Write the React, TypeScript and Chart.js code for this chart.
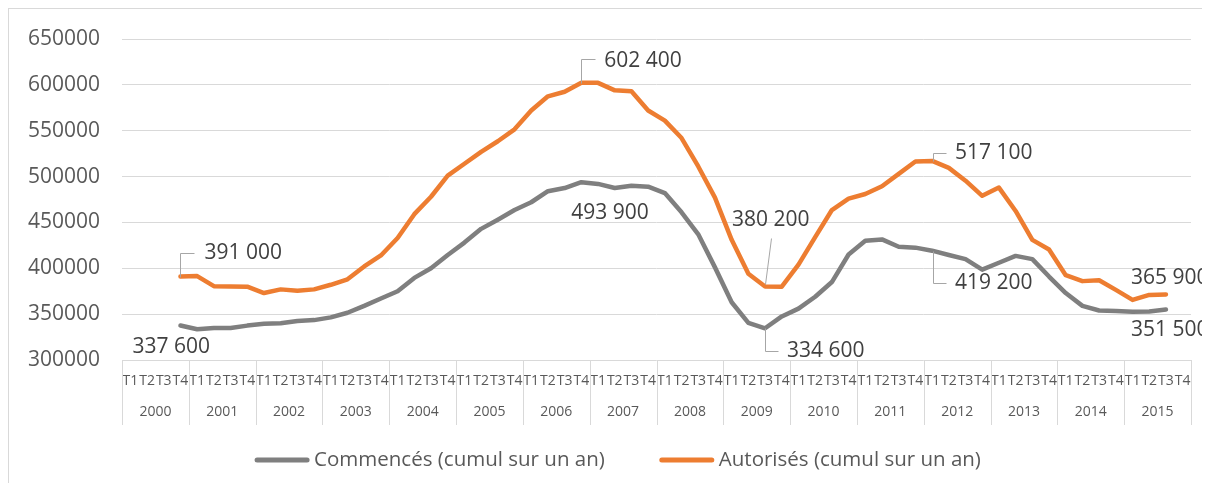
import React, { useEffect, useRef } from "react";
import { Chart, registerables } from "chart.js";

Chart.register(...registerables);

// ---------- data ----------
const years = ["2000", "2001", "2002", "2003", "2004", "2005", "2006", "2007", "2008", "2009", "2010", "2011", "2012", "2013", "2014", "2015"];
const quarters = ["T1", "T2", "T3", "T4"];

const seriesNames = ["Commencés (cumul sur un an)", "Autorisés (cumul sur un an)"];

// 64 quarters, 2000 T1 .. 2015 T4 (null where no value)
const commences: (number | null)[] = [
  null, null, null, 337600,
  333500, 335000, 335000, 337500,
  339500, 340000, 342500, 343500,
  346500, 351500, 359000, 367000,
  375000, 389500, 400000, 414500,
  428000, 443000, 453000, 463500,
  472000, 484000, 487500, 493900,
  492000, 487500, 490000, 489000,
  482000, 461000, 437000, 401000,
  363000, 340500, 334600, 347500,
  356000, 369000, 385000, 415000,
  430000, 431500, 423500, 422500,
  419200, 414500, 410000, 398500,
  406000, 413500, 410000, 391000,
  373000, 359000, 354000, 353500,
  352500, 353000, 355000, null,
];

const autorises: (number | null)[] = [
  null, null, null, 391000,
  391500, 380500, 380200, 380000,
  373000, 377000, 375500, 377000,
  382000, 388000, 402000, 414000,
  433000, 459000, 478000, 501000,
  514000, 527000, 538500, 551500,
  572000, 587500, 592500, 602400,
  602200, 594000, 593000, 572000,
  561000, 542000, 511000, 477000,
  431000, 394000, 380200, 380000,
  404000, 434000, 463500, 476000,
  481000, 489500, 503000, 516500,
  517100, 509500, 495500, 479000,
  488000, 462500, 431000, 420500,
  392500, 386000, 387000, 376500,
  365500, 371000, 371500, null,
];

const yTicks = [300000, 350000, 400000, 450000, 500000, 550000, 600000, 650000];

// value labels shown on the chart (series index, point index, text)
const labelSeries = [1, 0, 1, 0, 1, 0, 1, 0, 1, 0];
const labelIndex = [3, 3, 27, 27, 38, 38, 48, 48, 62, 62];
const labelTexts = ["391 000", "337 600", "602 400", "493 900", "380 200", "334 600", "517 100", "419 200", "365 900", "351 500"];

// ---------- styles / placement ----------
const FONT = "'Open Sans', 'Noto Sans', 'DejaVu Sans', sans-serif";
const GRAY = "#7F7F7F";
const ORANGE = "#ED7D31";
const GRID = "#D9D9D9";
const TEXT = "#595959";
const LABEL = "#404040";
const LEADER = "#A6A6A6";

// offsets relative to the point: text left / text centre, leader polyline
const labelPlacement: { dx: number; dy: number; leader?: number[][] }[] = [
  { dx: 24, dy: -24, leader: [[0, 0], [0, -24], [14, -24]] },
  { dx: -48, dy: 22 },
  { dx: 23, dy: -22, leader: [[0, 0], [0, -24], [14, -24]] },
  { dx: -10, dy: 31 },
  { dx: -33, dy: -66, leader: [[0, -2], [6, -48]] },
  { dx: 22, dy: 23, leader: [[0, 0], [0, 23], [13, 23]] },
  { dx: 23, dy: -8, leader: [[1, 0], [1, -8], [14, -8]] },
  { dx: 23, dy: 32, leader: [[1, 0], [1, 32], [14, 32]] },
  { dx: -35, dy: -16 },
  { dx: -35, dy: 20 },
];

const quarterLabels = years.flatMap(() => quarters);

const decorPlugin = {
  id: "decor",
  afterDraw(chart: any) {
    const ctx: CanvasRenderingContext2D = chart.ctx;
    const xs = chart.scales.x;
    const { bottom } = chart.chartArea;
    ctx.save();

    // year separators + year labels
    ctx.strokeStyle = GRID;
    ctx.lineWidth = 1;
    for (let k = 0; k <= years.length; k++) {
      const x = Math.round(xs.getPixelForValue(k * 4 - 0.5)) + 0.5;
      ctx.beginPath();
      ctx.moveTo(x, bottom);
      ctx.lineTo(x, bottom + 65);
      ctx.stroke();
    }
    ctx.fillStyle = TEXT;
    ctx.font = `14px ${FONT}`;
    ctx.textAlign = "center";
    ctx.textBaseline = "middle";
    years.forEach((y, k) => {
      const x = xs.getPixelForValue(k * 4 + 1.5);
      ctx.fillText(y, x, bottom + 52);
    });

    // value labels with leader lines
    ctx.textAlign = "left";
    ctx.font = `21px ${FONT}`;
    labelTexts.forEach((txt, i) => {
      const meta = chart.getDatasetMeta(labelSeries[i]);
      const pt = meta.data[labelIndex[i]];
      if (!pt) return;
      const p = labelPlacement[i];
      if (p.leader) {
        ctx.strokeStyle = LEADER;
        ctx.lineWidth = 1;
        ctx.beginPath();
        p.leader.forEach(([lx, ly], j) => {
          const X = Math.round(pt.x + lx) + 0.5;
          const Y = Math.round(pt.y + ly) + 0.5;
          if (j === 0) ctx.moveTo(X, Y);
          else ctx.lineTo(X, Y);
        });
        ctx.stroke();
      }
      ctx.fillStyle = LABEL;
      ctx.fillText(txt, pt.x + p.dx, pt.y + p.dy);
    });

    // legend
    ctx.font = `20.5px ${FONT}`;
    const ds = chart.data.datasets;
    const sample = 56;
    const gap = 4;
    const between = 54;
    const widths = ds.map((d: any) => ctx.measureText(d.label).width);
    const total = widths.reduce((a: number, w: number) => a + sample + gap + w, 0) + between * (ds.length - 1);
    let x = chart.width / 2 + 8 - total / 2;
    const y = 451;
    ds.forEach((d: any, i: number) => {
      ctx.strokeStyle = d.borderColor;
      ctx.lineWidth = 5;
      ctx.lineCap = "round";
      ctx.beginPath();
      ctx.moveTo(x + 3, y);
      ctx.lineTo(x + sample - 3, y);
      ctx.stroke();
      ctx.fillStyle = TEXT;
      ctx.fillText(d.label, x + sample + gap, y);
      x += sample + gap + widths[i] + between;
    });
    ctx.restore();
  },
};

export default function App() {
  const ref = useRef<HTMLCanvasElement | null>(null);

  useEffect(() => {
    if (!ref.current) return;
    const chart = new Chart(ref.current, {
      type: "line",
      data: {
        labels: quarterLabels,
        datasets: [
          {
            label: seriesNames[0],
            data: commences,
            borderColor: GRAY,
            backgroundColor: GRAY,
            borderWidth: 4.5,
            pointRadius: 0,
            tension: 0,
            borderJoinStyle: "round",
            borderCapStyle: "round",
          },
          {
            label: seriesNames[1],
            data: autorises,
            borderColor: ORANGE,
            backgroundColor: ORANGE,
            borderWidth: 4.5,
            pointRadius: 0,
            tension: 0,
            borderJoinStyle: "round",
            borderCapStyle: "round",
          },
        ],
      },
      options: {
        responsive: false,
        animation: false,
        events: [],
        layout: { padding: { left: 0, right: 19, top: 30, bottom: 0 } },
        plugins: { legend: { display: false }, tooltip: { enabled: false } },
        scales: {
          x: {
            type: "category",
            offset: true,
            grid: { display: false, drawTicks: false },
            border: { display: false },
            ticks: {
              autoSkip: false,
              maxRotation: 0,
              minRotation: 0,
              padding: 13,
              color: TEXT,
              font: { family: FONT, size: 14 },
            },
            afterFit: (s: any) => {
              s.height = 123;
              s.paddingLeft = 0;
              s.paddingRight = 0;
            },
          },
          y: {
            min: yTicks[0],
            max: yTicks[yTicks.length - 1],
            afterBuildTicks: (s: any) => {
              s.ticks = yTicks.map((v) => ({ value: v }));
            },
            grid: { color: GRID, lineWidth: 1, drawTicks: false },
            border: { display: false },
            ticks: {
              padding: 22,
              color: TEXT,
              font: { family: FONT, size: 21 },
              callback: (v: any) => String(v),
            },
            afterFit: (s: any) => {
              s.width = 113;
              s.paddingTop = 0;
              s.paddingBottom = 0;
            },
          },
        },
      },
      plugins: [decorPlugin],
    });
    return () => chart.destroy();
  }, []);

  return (
    <div
      style={{
        width: 1202,
        height: 475,
        boxSizing: "border-box",
        borderLeft: `1px solid ${GRID}`,
        borderTop: `1px solid ${GRID}`,
        overflow: "hidden",
        background: "#fff",
      }}
    >
      <canvas ref={ref} width={1201} height={474} style={{ display: "block" }} />
    </div>
  );
}
